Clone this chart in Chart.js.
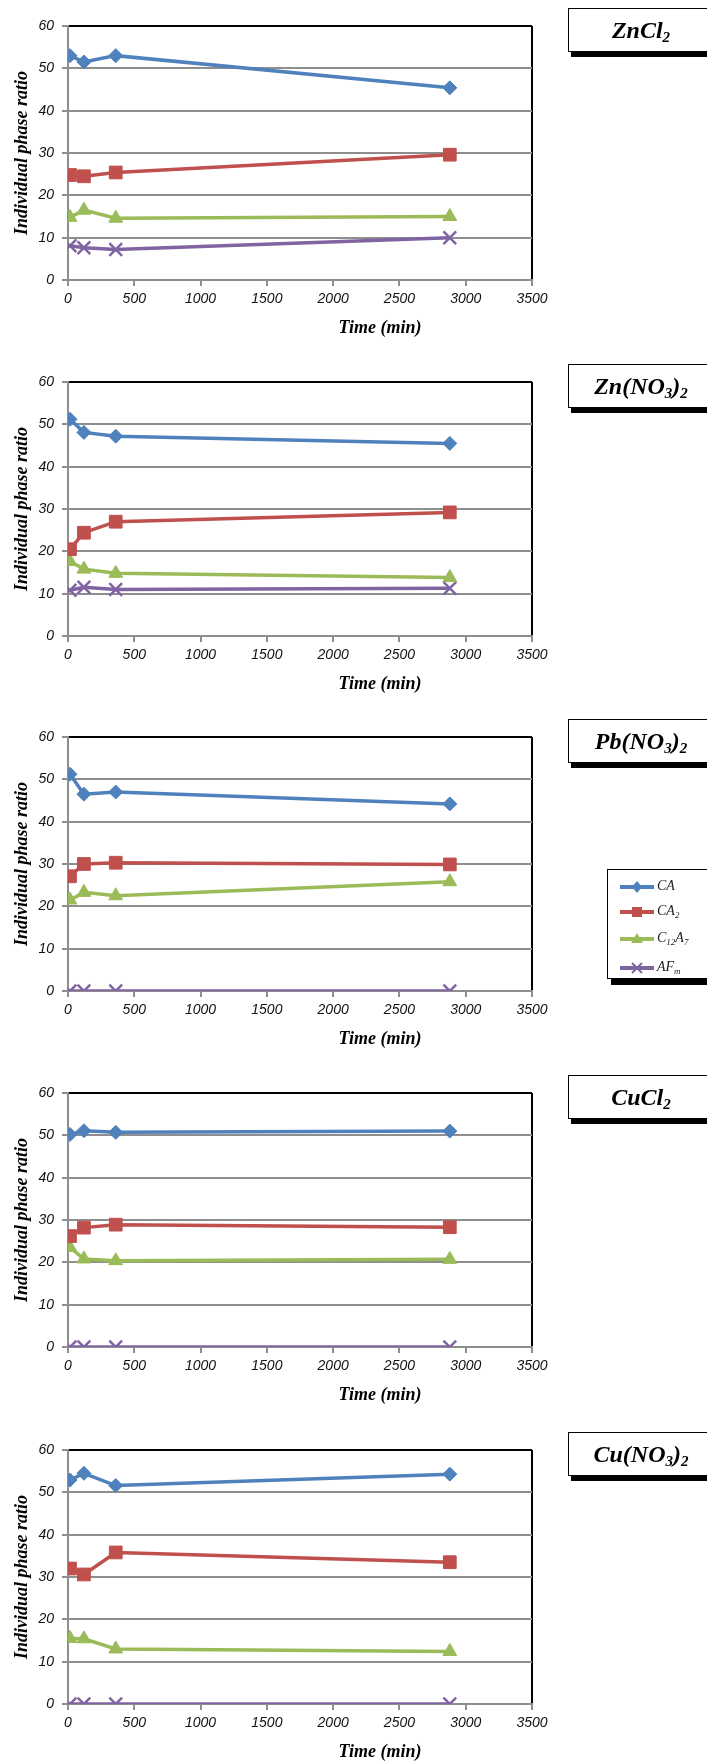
<!DOCTYPE html>
<html lang="en">
<head>
  <meta charset="utf-8">
  <title>Individual phase ratio vs time</title>
  <script src="https://cdn.jsdelivr.net/npm/chart.js@4.4.0/dist/chart.umd.min.js"></script>
  <style>
    html, body { margin: 0; padding: 0; background: #fff; }
    body { width: 707px; height: 1762px; position: relative; overflow: hidden; }
    .panel { position: absolute; left: 0; }
    .tag {
      position: absolute; left: 568px; width: 144px; height: 42px;
      border: 1px solid #000; background: #fff; box-shadow: 3px 5px 0 #000;
      font: bold italic 24px 'Liberation Serif', serif; color: #000;
      text-align: center; line-height: 42px;
    }
    .tag sub { font-size: 15px; vertical-align: -4px; line-height: 0; }
    .legend {
      position: absolute; left: 607px; top: 869px; width: 110px; height: 108px;
      border: 1px solid #000; background: #fff; box-shadow: 4px 6px 0 #000;
    }
    .legend .row { position: absolute; left: 12px; height: 16px; }
    .legend svg { position: absolute; left: 0; top: 0; }
    .legend span {
      position: absolute; left: 37px; top: -1px; white-space: nowrap;
      font: italic 14px 'Liberation Serif', serif; color: #222;
    }
    .legend sub { font-size: 9px; vertical-align: -3px; line-height: 0; }
  </style>
</head>

<body>

  <canvas class="panel" id="c1" width="707" height="356" style="top:0px"></canvas>
  <canvas class="panel" id="c2" width="707" height="356" style="top:356px"></canvas>
  <canvas class="panel" id="c3" width="707" height="356" style="top:711px"></canvas>
  <canvas class="panel" id="c4" width="707" height="356" style="top:1067px"></canvas>
  <canvas class="panel" id="c5" width="707" height="338" style="top:1424px"></canvas>

  <div class="tag" style="top:8px">ZnCl<sub>2</sub></div>
  <div class="tag" style="top:364px">Zn(NO<sub>3</sub>)<sub>2</sub></div>
  <div class="tag" style="top:719px">Pb(NO<sub>3</sub>)<sub>2</sub></div>
  <div class="tag" style="top:1075px">CuCl<sub>2</sub></div>
  <div class="tag" style="top:1432px">Cu(NO<sub>3</sub>)<sub>2</sub></div>

  <div class="legend">
    <div class="row" style="top:9px">
      <svg width="34" height="16"><line x1="0" y1="8" x2="34" y2="8" stroke="#4f81bd" stroke-width="4"/><polygon points="17,2 22,8 17,14 12,8" fill="#4f81bd"/></svg>
      <span>CA</span>
    </div>
    <div class="row" style="top:34px">
      <svg width="34" height="16"><line x1="0" y1="8" x2="34" y2="8" stroke="#c0504d" stroke-width="4"/><rect x="12" y="3" width="10" height="10" fill="#c0504d"/></svg>
      <span>CA<sub>2</sub></span>
    </div>
    <div class="row" style="top:61px">
      <svg width="34" height="16"><line x1="0" y1="8" x2="34" y2="8" stroke="#9bbb59" stroke-width="4"/><polygon points="17,2 23,12 11,12" fill="#9bbb59"/></svg>
      <span>C<sub>12</sub>A<sub>7</sub></span>
    </div>
    <div class="row" style="top:90px">
      <svg width="34" height="16"><line x1="0" y1="8" x2="34" y2="8" stroke="#8064a2" stroke-width="4"/><path d="M12 3 L22 13 M22 3 L12 13" stroke="#8064a2" stroke-width="2"/></svg>
      <span>AF<sub>m</sub></span>
    </div>
  </div>

  <script>
    // hydration times (min)
    const timeMin = [15, 120, 360, 2880];
    const seriesNames = ['CA', 'CA2', 'C12A7', 'AFm'];
    const seriesColors = ['#4f81bd', '#c0504d', '#9bbb59', '#8064a2'];
    const pointStyles = ['rectRot', 'rect', 'triangle', 'crossRot'];
    const pointSizes = [7, 9, 8, 9];

    // values per salt: [CA, CA2, C12A7, AFm]
    const zncl2 = [
      [53.0, 51.5, 53.0, 45.4],
      [24.8, 24.5, 25.4, 29.6],
      [14.8, 16.5, 14.6, 15.0],
      [8.1, 7.6, 7.2, 10.0]
    ];
    const znno3 = [
      [51.2, 48.1, 47.2, 45.5],
      [20.5, 24.4, 27.0, 29.2],
      [17.6, 15.8, 14.8, 13.8],
      [10.8, 11.5, 11.0, 11.3]
    ];
    const pbno3 = [
      [51.2, 46.5, 47.0, 44.2],
      [27.1, 30.0, 30.3, 29.9],
      [21.5, 23.3, 22.5, 25.8],
      [0, 0, 0, 0]
    ];
    const cucl2 = [
      [50.2, 51.1, 50.7, 51.0],
      [26.2, 28.2, 28.9, 28.3],
      [23.5, 20.8, 20.4, 20.7],
      [0, 0, 0, 0]
    ];
    const cuno3 = [
      [52.9, 54.5, 51.6, 54.3],
      [32.0, 30.6, 35.8, 33.5],
      [15.5, 15.4, 13.0, 12.4],
      [0, 0, 0, 0]
    ];

    const xTicksMax = 3500;
    const yTicksMax = 60;
    const xTitle = 'Time (min)';
    const yTitle = 'Individual phase ratio';

    const gridGray = '#8e8e8e';
    const tickFont = { family: "'Liberation Sans', sans-serif", size: 14, style: 'italic' };

    // axis titles sit where the original put them (x title is off-centre)
    const axisTitles = {
      id: 'axisTitles',
      afterDraw(chart) {
        const ctx = chart.ctx;
        const a = chart.chartArea;
        ctx.save();
        ctx.fillStyle = '#000';
        ctx.font = "bold italic 18px 'Liberation Serif'";
        ctx.textAlign = 'center';
        ctx.textBaseline = 'middle';
        ctx.fillText(xTitle, 380, a.bottom + 48);
        ctx.translate(22, (a.top + a.bottom) / 2);
        ctx.rotate(-Math.PI / 2);
        ctx.fillText(yTitle, 0, 0);
        ctx.restore();
      }
    };

    function plainNumber(v) { return String(v); }

    function makeChart(id, values) {
      var canvas = document.getElementById(id);
      var H = canvas.height;
      var datasets = seriesNames.map(function (name, k) {
        return {
          label: name,
          data: timeMin.map(function (t, i) { return { x: t, y: values[k][i] }; }),
          borderColor: seriesColors[k],
          backgroundColor: seriesColors[k],
          borderWidth: 3.5,
          pointStyle: pointStyles[k],
          pointRadius: pointSizes[k],
          pointBorderWidth: k === 3 ? 2.5 : 1,
          tension: 0
        };
      });
      return new Chart(canvas, {
        type: 'line',
        data: { datasets: datasets },
        options: {
          responsive: false,
          animation: false,
          layout: { padding: { top: 26, right: 175, left: 0, bottom: 0 } },
          plugins: { legend: { display: false }, tooltip: { enabled: false } },
          scales: {
            x: {
              type: 'linear', min: 0, max: xTicksMax,
              ticks: { stepSize: 500, font: tickFont, color: '#111', padding: 5, maxRotation: 0, callback: plainNumber },
              grid: {
                drawOnChartArea: true,
                // only the right frame line is drawn inside the plot
                color: function (c) { return c.tick && c.tick.value === xTicksMax ? '#000' : 'rgba(0,0,0,0)'; },
                tickColor: gridGray, tickLength: 6, lineWidth: 2
              },
              border: { color: gridGray, width: 2 },
              afterFit: function (s) { s.height = H - 280; }
            },
            y: {
              min: 0, max: yTicksMax,
              ticks: { stepSize: 10, font: tickFont, color: '#111', padding: 8, callback: plainNumber },
              grid: {
                color: function (c) { return c.tick && c.tick.value === yTicksMax ? '#000' : gridGray; },
                tickColor: gridGray, tickLength: 6, lineWidth: 2
              },
              border: { color: gridGray, width: 2 },
              afterFit: function (s) { s.width = 68; }
            }
          }
        },
        plugins: [axisTitles]
      });
    }

    makeChart('c1', zncl2);
    makeChart('c2', znno3);
    makeChart('c3', pbno3);
    makeChart('c4', cucl2);
    makeChart('c5', cuno3);
  </script>
</body>

</html>
